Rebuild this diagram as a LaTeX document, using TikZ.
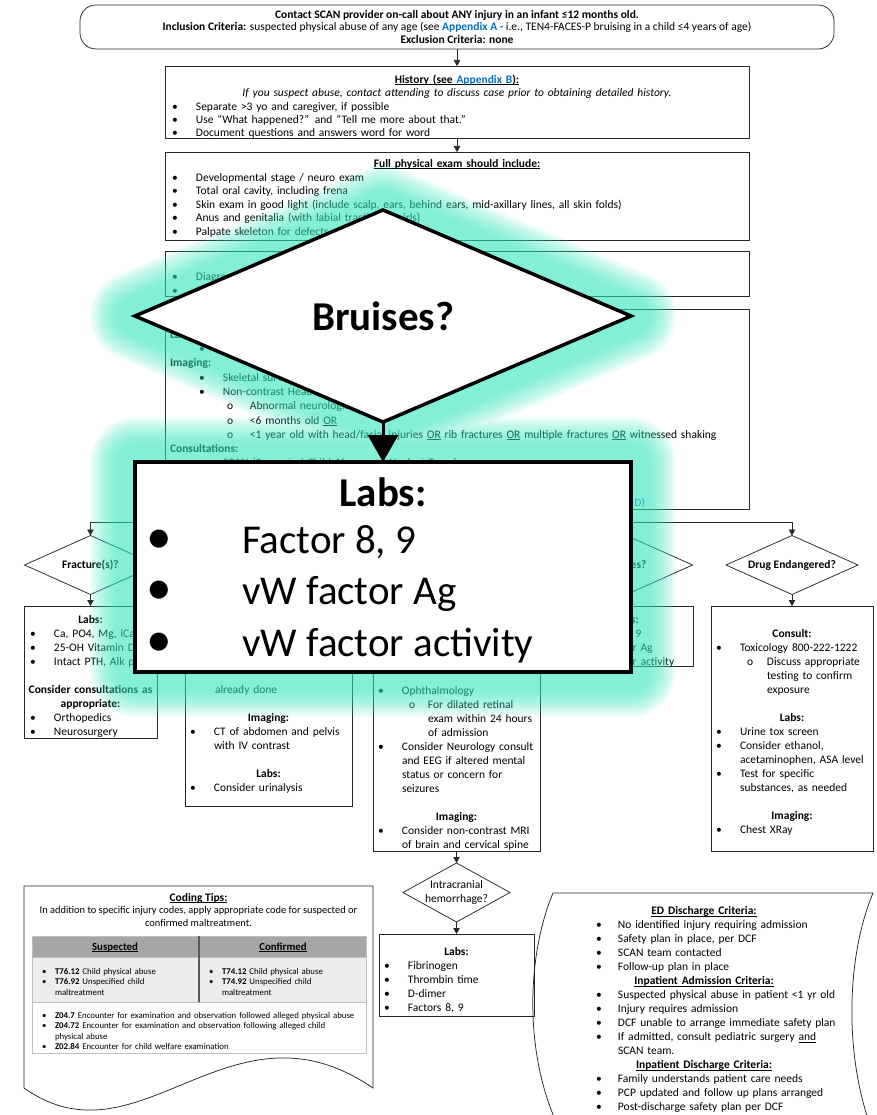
\documentclass[tikz,border=0pt]{standalone}
\usepackage{fontspec}
\setmainfont{Carlito}
\usetikzlibrary{arrows.meta,shapes.geometric}

\definecolor{lnk}{RGB}{0,112,192}
\definecolor{glowc}{RGB}{55,229,189}
\definecolor{hdrgray}{RGB}{166,166,166}
\definecolor{rowgray}{RGB}{237,237,237}
\definecolor{rulegray}{RGB}{191,191,191}
\definecolor{divgray}{RGB}{89,89,89}

% paragraph helpers for the box texts
\newcommand\sr{\rule{0pt}{.7\baselineskip}}
\newcommand\li[4]{\par\hangindent=\dimexpr#1+#3\relax\hangafter=1\noindent\sr\hspace*{#1}\makebox[#3][l]{#2}#4}
\newcommand\itm[1]{\li{0pt}{•}{24pt}{#1}}
\newcommand\subitm[1]{\li{31pt}{o}{20pt}{#1}}
\newcommand\ctr[2]{\par\noindent\sr\makebox[#1pt][c]{#2}}
\newcommand\hd[2]{\ctr{#1}{\textbf{#2}}}
\newcommand\lft[1]{\par\noindent\sr#1}
\newcommand\blank{\par\noindent\sr}
\newcommand\ul[1]{\setbox0\hbox{#1}\rlap{\rule[-1.5pt]{\wd0}{0.55pt}}\box0\relax}
\newcommand\flowbox[5]{\node[fbox, minimum width={#4-#2}, minimum height={#5-#3}] (#1) at (#2,#3) {};}

\tikzset{
  base/.style={inner sep=0pt, outer sep=0pt},
  fbox/.style={base, draw=black!85, line width=0.75pt, rectangle, anchor=north west},
  txt/.style={base, anchor=north west, text width=#1, font=\fontsize{11.5}{14}\selectfont},
  dia/.style={base, diamond, aspect=2.24, draw=black!85, line width=0.75pt,
              minimum width=132pt, minimum height=59pt, font=\fontsize{11.5}{14}\selectfont\bfseries},
  conn/.style={draw=black!85, line width=0.75pt},
  arr/.style={-{Triangle[length=6pt,width=6.5pt]}},
  one/.style={base, anchor=base, font=\fontsize{11.5}{14}\selectfont},
  bigtxt/.style={base, anchor=base west, font=\fontsize{41}{48}\selectfont},
}

\begin{document}
\begin{tikzpicture}[x=1pt,y=-1pt]
\useasboundingbox (0,0) rectangle (876,1115);

% ---------------- main column
\node[fbox, anchor=center, rounded corners=16pt, minimum width=754pt, minimum height=44pt,
      align=center, font=\fontsize{11.5}{12.2}\selectfont] (top) at (457,27)
  {\textbf{Contact SCAN provider on-call about ANY injury in an infant ≤12 months old.}\\
   \textbf{Inclusion Criteria:} suspected physical abuse of any age (see \textcolor{lnk}{\textbf{Appendix A -}} i.e., TEN4-FACES-P bruising in a child ≤4 years of age)\\
   \textbf{Exclusion Criteria: none}};

\flowbox{hist}{165}{66}{749}{138}
\node[txt=590pt, font=\fontsize{11.5}{13.3}\selectfont] (hist-t) at (172,70.2) {%
\hd{570}{\ul{History (see \textcolor{lnk}{Appendix B}):}}
\ctr{570}{\textit{If you suspect abuse, contact attending to discuss case prior to obtaining detailed history.}}
\itm{Separate >3 yo and caregiver, if possible}
\itm{Use “What happened?” and “Tell me more about that.”}
\itm{Document questions and answers word for word}\par};

\flowbox{phys}{165}{152}{749}{240}
\node[txt=590pt, font=\fontsize{11.5}{13.5}\selectfont] (phys-t) at (172,154.05) {%
\hd{570}{\ul{Full physical exam should include:}}
\itm{Developmental stage / neuro exam}
\itm{Total oral cavity, including frena}
\itm{Skin exam in good light (include scalp, ears, behind ears, mid-axillary lines, all skin folds)}
\itm{Anus and genitalia (with labial traction in girls)}
\itm{Palpate skeleton for defects}\par};

\flowbox{notes}{165}{251}{749}{296}
\node[txt=590pt] (notes-t) at (172,266.7) {%
\itm{Diagram injuries}
\itm{Obtain photos}\par};

\flowbox{box4}{165}{309}{749}{509}
\node[txt=590pt, font=\fontsize{11.5}{14.3}\selectfont] (box4-t) at (170,323.9) {%
\lft{\textbf{Labs:}}
\li{29pt}{•}{24pt}{}
\lft{\textbf{Imaging:}}
\li{29pt}{•}{24pt}{Skeletal survey}
\li{29pt}{•}{24pt}{Non-contrast Head CT if:}
\li{57pt}{o}{23pt}{Abnormal neurological exam \ul{OR}}
\li{57pt}{o}{23pt}{<6 months old \ul{OR}}
\li{57pt}{o}{23pt}{<1 year old with head/facial injuries \ul{OR} rib fractures \ul{OR} multiple fractures \ul{OR} witnessed shaking}
\lft{\textbf{Consultations:}}
\li{29pt}{•}{24pt}{SCAN (Suspected Child Abuse and Neglect Team)}\par};
\node[base, anchor=base east, font=\fontsize{11.5}{14}\selectfont] (appd) at (645,506.5) {\textcolor{lnk}{Appendix D)}};

\draw[conn,arr] (top.south) -- (hist.north);
\draw[conn,arr] (hist.south) -- (phys.north);
\draw[conn,arr] (phys.south) -- (notes.north);
\draw[conn,arr] (notes.south) -- (box4.north);

% ---------------- branches
\node[dia] (dfrac) at (90.5,565) {Fracture(s)?};
\node[dia] (dabd)  at (268.5,565) {};
\node[dia] (dhead) at (456.5,565) {};
\node[dia] (dbru)  at (626.5,565) {Bruises?};
\node[dia] (ddrug) at (792,565) {Drug Endangered?};

\coordinate (split) at (457,522);
\draw[conn] (box4.south) -- (split);
\foreach \dn in {dfrac,dabd,dhead,dbru,ddrug} \draw[conn,arr] (split) -| (\dn.north);

\flowbox{bfrac}{24}{606}{157}{738}
\flowbox{babd}{185}{606}{352}{806}
\flowbox{bhead}{373}{606}{540}{851}
\flowbox{bbru}{560}{606}{693}{666}
\flowbox{bdrug}{711}{606}{873}{851}
\foreach \dn/\bn in {dfrac/bfrac,dabd/babd,dhead/bhead,dbru/bbru,ddrug/bdrug}
  \draw[conn,arr] (\dn.south) -- (\bn.north);

\node[txt=200pt] (bfrac-t) at (30,609.7) {%
\hd{121}{Labs:}
\itm{Ca, PO4, Mg, iCal}
\itm{25-OH Vitamin D}
\itm{Intact PTH, Alk phos}
\blank
\hd{121}{Consider consultations as}
\hd{121}{appropriate:}
\itm{Orthopedics}
\itm{Neurosurgery}\par};

\node[txt=200pt] (babd-t) at (190,679.7) {%
\lft{\hspace*{25pt}already done}
\blank
\hd{157}{Imaging:}
\itm{CT of abdomen and pelvis\newline with IV contrast}
\blank
\hd{157}{Labs:}
\itm{Consider urinalysis}\par};

\node[txt=200pt] (bhead-t) at (378,680.7) {%
\itm{Ophthalmology}
\li{31pt}{o}{19pt}{For dilated retinal\newline exam within 24 hours\newline of admission}
\itm{Consider Neurology consult\newline and EEG if altered mental\newline status or concern for\newline seizures}
\blank
\hd{157}{Imaging:}
\itm{Consider non-contrast MRI\newline of brain and cervical spine}\par};

\node[txt=200pt] (bbru-t) at (566,609.7) {%
\hd{121}{Labs:}
\itm{Factor 8, 9}
\itm{vW factor Ag}
\itm{vW factor activity}\par};

\node[txt=200pt] (bdrug-t) at (716,623.7) {%
\hd{152}{Consult:}
\itm{Toxicology 800-222-1222}
\subitm{Discuss appropriate\newline testing to confirm\newline exposure}
\blank
\hd{152}{Labs:}
\itm{Urine tox screen}
\itm{Consider ethanol,\newline acetaminophen, ASA level}
\itm{Test for specific\newline substances, as needed}
\blank
\hd{152}{Imaging:}
\itm{Chest XRay}\par};

% intracranial bleed check
\node[dia, aspect=1.81, minimum width=107pt, minimum height=59pt] (dich) at (456.5,892.5) {};
\node[base, align=center, font=\fontsize{11.5}{14.5}\selectfont] (dich-t) at (dich.center) {Intracranial\\hemorrhage?};
\flowbox{bich}{379}{934}{534}{1016}
\draw[conn,arr] (bhead.south) -- (dich.north);
\draw[conn,arr] (dich.south) -- (bich.north);
\node[txt=200pt] (bich-t) at (384,941.7) {%
\hd{145}{Labs:}
\itm{Fibrinogen}
\itm{Thrombin time}
\itm{D-dimer}
\itm{Factors 8, 9}\par};

% ---------------- coding tips (document shape)
\draw[conn] (24,886) -- (373,886) -- (373,1088) .. controls (230,990) and (140,1170) .. (24,1088) -- cycle;
\node[one, font=\fontsize{11.5}{13}\selectfont\bfseries] (ct-h) at (198.5,901) {\ul{Coding Tips:}};
\node[one, font=\fontsize{10.4}{12.5}\selectfont] (ct-1) at (198.5,913.5) {In addition to specific injury codes, apply appropriate code for suspected or};
\node[one, font=\fontsize{10.4}{12.5}\selectfont] (ct-2) at (198.5,926) {confirmed maltreatment.};
\fill[hdrgray] (32,936) rectangle (366,957);
\fill[rowgray] (32,957) rectangle (366,1002);
\draw[rulegray, line width=0.8pt] (32,936) rectangle (366,1053) (32,957) -- (366,957) (32,1002) -- (366,1002);
\draw[divgray, line width=1.5pt] (199,936) -- (199,1002);
\node[one, font=\fontsize{10.8}{12}\selectfont\bfseries] (th1) at (115,950.5) {\ul{Suspected}};
\node[one, font=\fontsize{10.8}{12}\selectfont\bfseries] (th2) at (283,950.5) {\ul{Confirmed}};
\node[txt=160pt, font=\fontsize{8.8}{10.5}\selectfont] (cs-l) at (42,963.65) {%
\li{0pt}{•}{13pt}{\textbf{T76.12} Child physical abuse}
\li{0pt}{•}{13pt}{\textbf{T76.92} Unspecified child\newline maltreatment}\par};
\node[txt=160pt, font=\fontsize{8.8}{10.5}\selectfont] (cs-r) at (209,963.65) {%
\li{0pt}{•}{13pt}{\textbf{T74.12} Child physical abuse}
\li{0pt}{•}{13pt}{\textbf{T74.92} Unspecified child\newline maltreatment}\par};
\node[txt=330pt, font=\fontsize{8.8}{10.5}\selectfont] (cs-z) at (42,1007.65) {%
\li{0pt}{•}{13pt}{\textbf{Z04.7} Encounter for examination and observation followed alleged physical abuse}
\li{0pt}{•}{13pt}{\textbf{Z04.72} Encounter for examination and observation following alleged child\newline physical abuse}
\li{0pt}{•}{13pt}{\textbf{Z02.84} Encounter for child welfare examination}\par};

% ---------------- discharge criteria (stored data shape)
\draw[conn] (553,893) -- (873,893) .. controls (845,960) and (845,1060) .. (872,1130) -- (560,1130) .. controls (525,1060) and (525,960) .. (553,893) -- cycle;
\node[txt=280pt] (ed-t) at (596,900.7) {%
\hd{216}{\ul{ED Discharge Criteria:}}
\li{0pt}{•}{22pt}{No identified injury requiring admission}
\li{0pt}{•}{22pt}{Safety plan in place, per DCF}
\li{0pt}{•}{22pt}{SCAN team contacted}
\li{0pt}{•}{22pt}{Follow-up plan in place}
\hd{216}{\ul{Inpatient Admission Criteria:}}
\li{0pt}{•}{22pt}{Suspected physical abuse in patient <1 yr old}
\li{0pt}{•}{22pt}{Injury requires admission}
\li{0pt}{•}{22pt}{DCF unable to arrange immediate safety plan}
\li{0pt}{•}{22pt}{If admitted, consult pediatric surgery \ul{and}\newline SCAN team.}
\hd{216}{\ul{Inpatient Discharge Criteria:}}
\li{0pt}{•}{22pt}{Family understands patient care needs}
\li{0pt}{•}{22pt}{PCP updated and follow up plans arranged}
\li{0pt}{•}{22pt}{Post-discharge safety plan per DCF}\par};

% ---------------- magnified callout with soft glow
\foreach \w in {38,42,...,90} {
  \draw[glowc, line width=\w pt, draw opacity=0.065, line join=round]
    (135,316) -- (383,210) -- (631,316) -- (383,422) -- cycle
    (135,462) rectangle (631,672);
}
\node[base, diamond, aspect=2.34, draw=black, line width=3.5pt, fill=white,
      minimum width=496pt, minimum height=212pt, font=\fontsize{41}{48}\selectfont\bfseries] (bigd) at (383,316) {Bruises?};
\node[base, rectangle, draw=black, line width=4pt, fill=white,
      minimum width=496pt, minimum height=210pt] (bigl) at (383,567) {};
\draw[line width=3pt, -{Triangle[length=27pt,width=30pt]}] (bigd.south) -- (bigl.north);
\node[base, anchor=base, font=\fontsize{41}{48}\selectfont\bfseries] (bigl-h) at (383,506) {Labs:};
\node[bigtxt] (bigl-1) at (146,553) {\makebox[96pt][l]{\scalebox{1.25}{•}}Factor 8, 9};
\node[bigtxt] (bigl-2) at (146,604.5) {\makebox[96pt][l]{\scalebox{1.25}{•}}vW factor Ag};
\node[bigtxt] (bigl-3) at (146,656) {\makebox[96pt][l]{\scalebox{1.25}{•}}vW factor activity};
\end{tikzpicture}
\end{document}
